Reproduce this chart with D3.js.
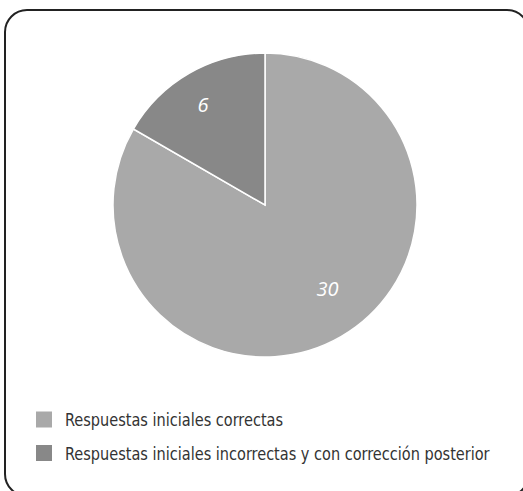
<!DOCTYPE html>
<html>
<head>
<meta charset="utf-8">
<script src="https://cdn.jsdelivr.net/npm/d3@7/dist/d3.min.js"></script>
<style>
  html, body { margin: 0; padding: 0; background: #fff; }
  svg { display: block; }
</style>
</head>
<body>
<script>
// Response counts
const categories = [
  "Respuestas iniciales correctas",
  "Respuestas iniciales incorrectas y con corrección posterior"
];
const values = [30, 6];
const colors = ["#a9a9a9", "#888888"];

const W = 523, H = 491;
const svg = d3.select("body").append("svg").attr("width", W).attr("height", H);

// Rounded frame (extends past the right and bottom edges)
svg.append("rect")
  .attr("x", 5).attr("y", 10)
  .attr("width", 524).attr("height", 486)
  .attr("rx", 22).attr("ry", 22)
  .attr("fill", "none")
  .attr("stroke", "#222").attr("stroke-width", 2);

const cx = 265, cy = 205, R = 152;
const g = svg.append("g").attr("transform", `translate(${cx},${cy})`);

const pie = d3.pie().sort(null).value(d => d)
  .startAngle(0).endAngle(2 * Math.PI);
const arcs = pie(values);
const arc = d3.arc().innerRadius(0).outerRadius(R);

g.selectAll("path.slice").data(arcs).enter().append("path")
  .attr("class", "slice")
  .attr("d", arc)
  .attr("fill", (d, i) => colors[i])
  .attr("stroke", "#fff").attr("stroke-width", 1.5);

// Value labels inside the slices (radius and small angular nudge per slice)
const labelPlacement = [{ r: 104, shift: -0.12 }, { r: 118, shift: -0.03 }];
g.selectAll("text.val").data(arcs).enter().append("text")
  .attr("class", "val")
  .attr("transform", (d, i) => {
    const p = labelPlacement[i];
    const a = (d.startAngle + d.endAngle) / 2 + p.shift;
    return `translate(${p.r * Math.sin(a)},${-p.r * Math.cos(a)})`;
  })
  .attr("text-anchor", "middle")
  .attr("dominant-baseline", "central")
  .attr("fill", "#fff")
  .attr("font-family", "'Open Sans', sans-serif")
  .attr("font-style", "italic")
  .attr("font-size", 20)
  .text(d => d.data);

// Legend
const legend = svg.append("g");
const rowY = d3.scalePoint().domain(categories).range([419.5, 453]);
const items = legend.selectAll("g").data(categories).enter().append("g")
  .attr("transform", d => `translate(36,${rowY(d)})`);
items.append("rect")
  .attr("x", 0).attr("y", -8).attr("width", 16).attr("height", 16)
  .attr("fill", (d, i) => colors[i]);
items.append("text")
  .attr("transform", "translate(29,6.5) scale(0.922,1)")
  .attr("fill", "#333")
  .attr("font-family", "'DejaVu Sans Condensed', 'DejaVu Sans', sans-serif")
  .attr("font-stretch", "condensed")
  .attr("font-size", 17.5)
  .text(d => d);
</script>
</body>
</html>
